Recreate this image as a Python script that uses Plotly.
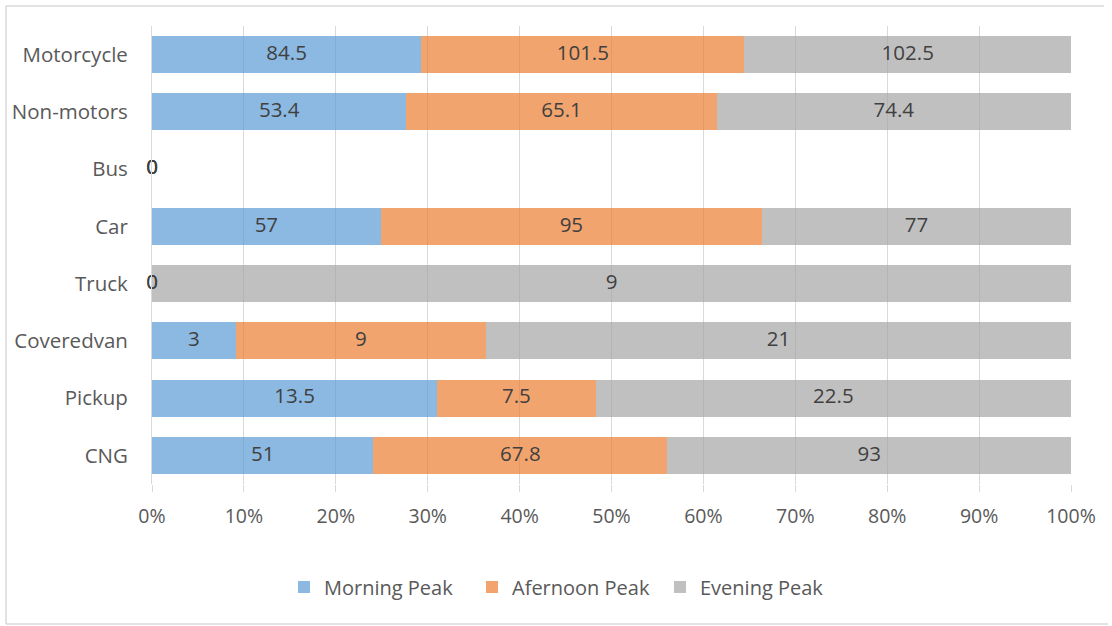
import numpy as np
import plotly.graph_objects as go

categories = ["CNG", "Pickup", "Coveredvan", "Truck", "Car", "Bus", "Non-motors", "Motorcycle"]
morning = [51, 13.5, 3, 0, 57, 0, 53.4, 84.5]
afternoon = [67.8, 7.5, 9, 0, 95, 0, 65.1, 101.5]
evening = [93, 22.5, 21, 9, 77, 0, 74.4, 102.5]
series_names = ["Morning Peak", "Afernoon Peak", "Evening Peak"]
colors = ["rgba(91,155,213,0.7)", "rgba(237,125,49,0.7)", "rgba(165,165,165,0.7)"]

vals = np.array([morning, afternoon, evening], dtype=float)
tot = vals.sum(axis=0)
safe = np.where(tot == 0, 1, tot)
pct = vals / safe * 100.0
cum = np.cumsum(pct, axis=0)
start = cum - pct
mid = start + pct / 2

FONT = "Open Sans"
fig = go.Figure()
for i, name in enumerate(series_names):
    fig.add_trace(go.Bar(
        y=categories, x=pct[i], name=name, orientation="h",
        marker=dict(color=colors[i], line=dict(width=0)),
        hoverinfo="skip",
    ))
for i in range(3):
    fig.add_trace(go.Scatter(
        y=categories, x=mid[i], mode="text",
        text=[("%g" % v) for v in vals[i]],
        textfont=dict(family=FONT, size=20.5, color="#404040"),
        showlegend=False, hoverinfo="skip", cliponaxis=False,
    ))

L, R, T, B = 152, 41, 26, 142
W, H = 1112, 626
pw, ph = W - L - R, H - T - B
def px(x):
    return (x - L) / pw
def py(y):
    return (H - B - y) / ph

line = dict(color="#D9D9D9", width=1.5)
fig.add_shape(type="line", xref="paper", yref="paper", x0=px(6), x1=px(1104), y0=py(6), y1=py(6), line=line)
fig.add_shape(type="line", xref="paper", yref="paper", x0=px(6), x1=px(6), y0=py(6), y1=py(624), line=line)
fig.add_shape(type="line", xref="paper", yref="paper", x0=px(6), x1=px(1108), y0=py(624), y1=py(624), line=line)

fig.update_layout(
    barmode="stack", bargap=0.355,
    width=W, height=H,
    margin=dict(l=L, r=R, t=T, b=B, pad=0, autoexpand=False),
    paper_bgcolor="white", plot_bgcolor="white",
    font=dict(family=FONT, size=20, color="#595959"),
    xaxis=dict(range=[0, 100], dtick=10, ticksuffix="%", showgrid=True, automargin=False,
               gridcolor="#D9D9D9", gridwidth=1, zeroline=False,
               ticks="outside", ticklen=7, tickcolor="#D9D9D9", ticklabelstandoff=8,
               tickfont=dict(family=FONT, size=19.5, color="#595959"), showline=False),
    yaxis=dict(showgrid=False, zeroline=False, ticks="", ticklabelstandoff=19, automargin=False,
               tickfont=dict(family=FONT, size=20.5, color="#595959"),
               showline=True, linecolor="#D9D9D9", linewidth=1),
    legend=dict(orientation="h", x=px(284), xanchor="left", y=py(587), yanchor="middle",
                font=dict(family=FONT, size=20, color="#595959"), traceorder="normal",
                entrywidth=143, entrywidthmode="pixels"),
    showlegend=True,
)
fig.write_html("out.html")
